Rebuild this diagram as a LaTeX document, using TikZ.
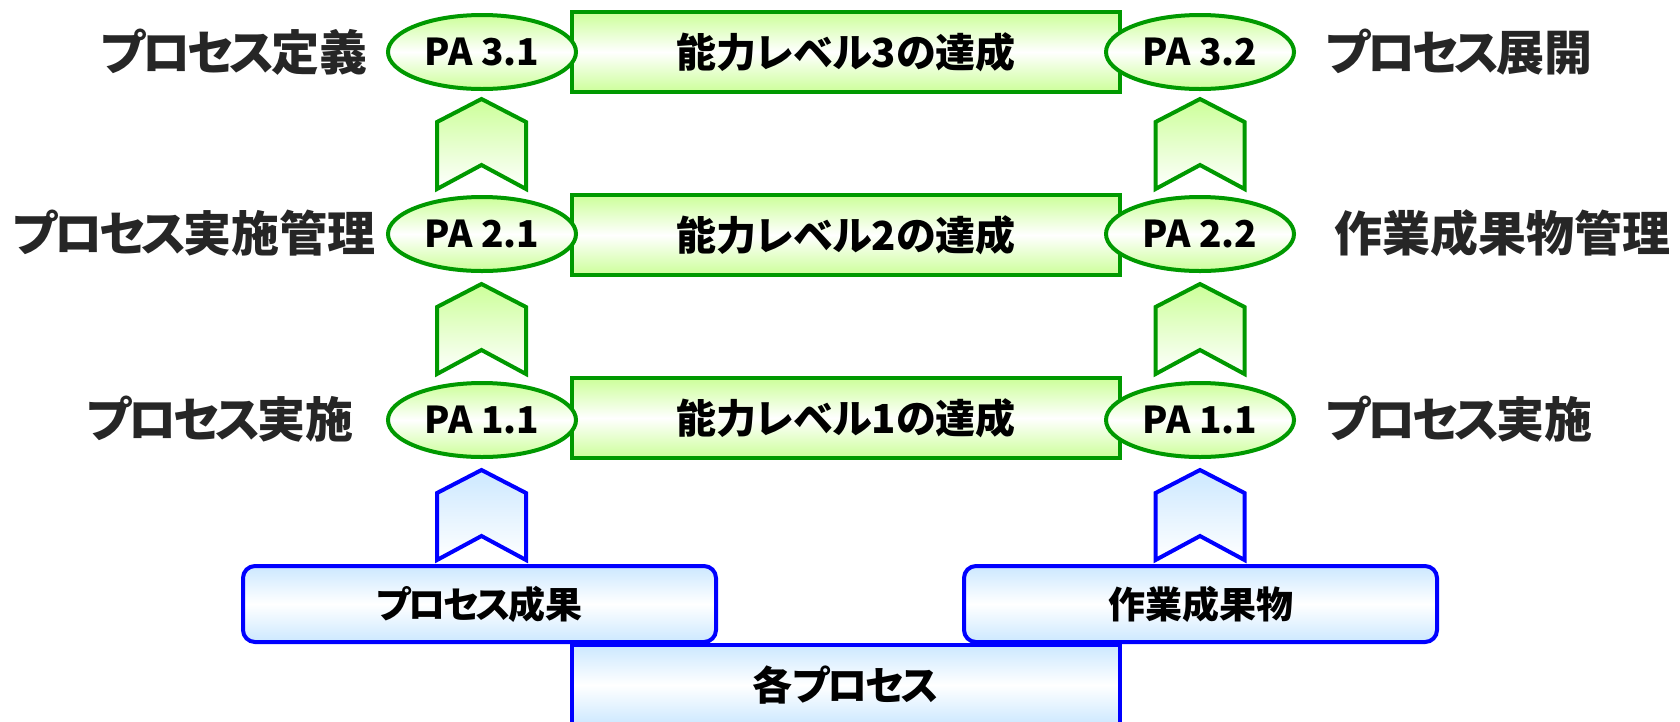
\documentclass[tikz,border=0pt]{standalone}
\usepackage{fontspec}
\newfontfamily\jp[RawFeature=+palt]{Noto Sans CJK JP}
\usetikzlibrary{shapes.geometric}
\definecolor{gline}{HTML}{009900}
\definecolor{gfill}{HTML}{CCFF99}
\definecolor{bline}{HTML}{0000FF}
\definecolor{bfill}{HTML}{CCE8FF}
\definecolor{lab}{HTML}{262626}
\newcommand\kn{\kern-3.5pt}
\newcommand\ks{\kern-2.5pt}
\tikzset{
 lvlbox/.style={draw=gline, line width=4pt, top color=gfill, bottom color=gfill, middle color=white, minimum width=548pt, minimum height=80pt, inner sep=0pt, font=\jp\bfseries\fontsize{40}{44}\selectfont},
 pa/.style={ellipse, draw=gline, line width=4pt, top color=gfill, bottom color=gfill, middle color=white, minimum width=188pt, minimum height=74pt, inner sep=0pt, font=\jp\bfseries\fontsize{37}{42}\selectfont},
 side/.style={anchor=west, text=lab, inner sep=0pt, font=\jp\bfseries\fontsize{48}{52}\selectfont},
 srcbox/.style={draw=bline, line width=4pt, rounded corners=12pt, top color=bfill, bottom color=bfill, middle color=white, minimum width=473pt, minimum height=76pt, inner sep=0pt, font=\jp\bfseries\fontsize{37}{42}\selectfont},
 procbox/.style={draw=bline, line width=4pt, top color=bfill, bottom color=bfill, middle color=white, minimum width=548pt, minimum height=80pt, inner sep=0pt, font=\jp\bfseries\fontsize{40}{44}\selectfont},
 gchev/.style={draw=gline, line width=4pt, top color=gfill, bottom color=white, line join=miter},
 bchev/.style={draw=bline, line width=4pt, top color=bfill, bottom color=white, line join=miter},
}
\newcommand\chevronat[3]{\path[#3] (#1,#2) -- ++(44.5,23) -- ++(0,67) -- ++(-44.5,-24) -- ++(-44.5,24) -- ++(0,-67) -- cycle;}
\begin{document}
\begin{tikzpicture}[x=1pt,y=-1pt]
\clip (0,0) rectangle (1680,721);
\fill[white] (0,0) rectangle (1680,721);
% bottom source boxes
\node[srcbox] (pout) at (479.5,604) {プ\ks ロ\ks セ\ks ス\ks 成果};
\node[srcbox] (wprod) at (1200.5,604) {作業成果物};
\node[procbox] (proc) at (846,685) {各プ\ks ロ\ks セ\ks ス};
% chevrons
\chevronat{481.5}{470}{bchev}
\chevronat{1200}{470}{bchev}
\chevronat{481.5}{284}{gchev}
\chevronat{1200}{284}{gchev}
\chevronat{481.5}{99}{gchev}
\chevronat{1200}{99}{gchev}
% level boxes
\node[lvlbox] (l3) at (846,52) {能力レベル3の達成};
\node[lvlbox] (l2) at (846,235) {能力レベル2の達成};
\node[lvlbox] (l1) at (846,418) {能力レベル1の達成};
% PA ellipses
\node[pa] (pa31) at (482,52) {PA 3.1};
\node[pa] (pa32) at (1200,52) {PA 3.2};
\node[pa] (pa21) at (482,234) {PA 2.1};
\node[pa] (pa22) at (1200,234) {PA 2.2};
\node[pa] (pa11l) at (482,420) {PA 1.1};
\node[pa] (pa11r) at (1200,420) {PA 1.1};
% side labels
\node[side] (t31) at (101,52) {プ\kn ロ\kn セ\kn ス\kn 定義};
\node[side] (t21) at (13,233) {プ\kn ロ\kn セ\kn ス\kn 実施管理};
\node[side] (t11) at (87,419) {プ\kn ロ\kn セ\kn ス\kn 実施};
\node[side] (t32) at (1326,52) {プ\kn ロ\kn セ\kn ス\kn 展開};
\node[side] (t22) at (1334,233) {作業成果物管理};
\node[side] (t12) at (1326,419) {プ\kn ロ\kn セ\kn ス\kn 実施};
\end{tikzpicture}
\end{document}
